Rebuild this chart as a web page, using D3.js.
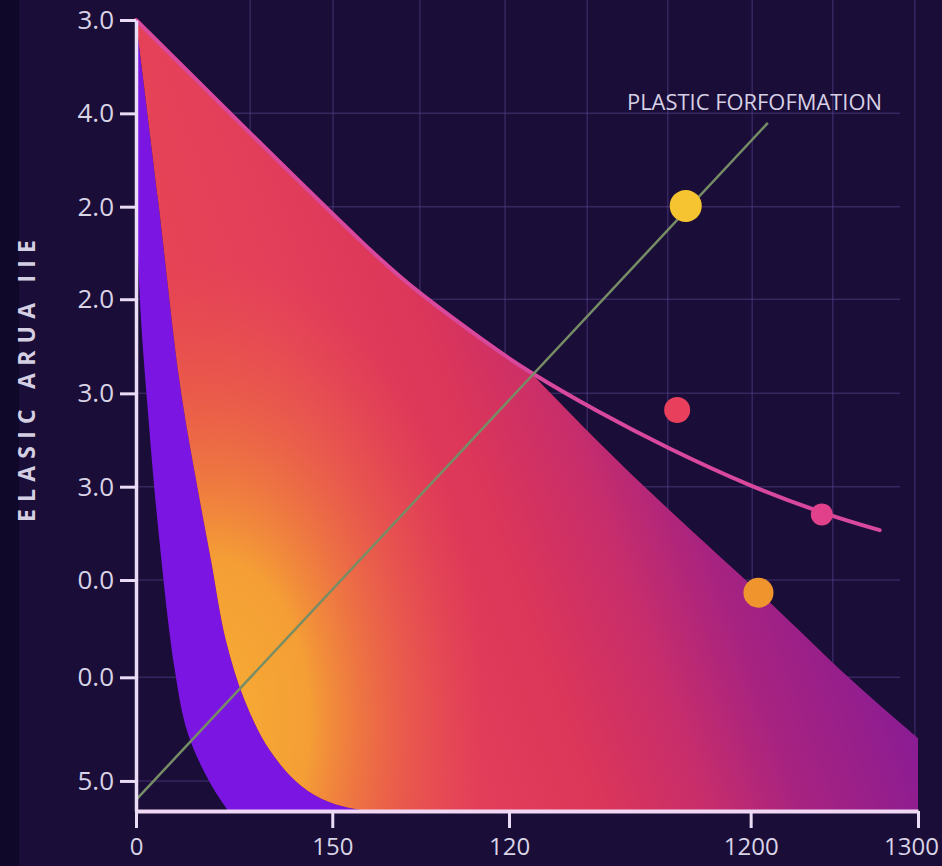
<!DOCTYPE html>
<html>
<head>
<meta charset="utf-8">
<script src="https://cdn.jsdelivr.net/npm/d3@7"></script>
<style>
  html, body { margin: 0; padding: 0; background: #1a0d38; }
  svg { display: block; }
</style>
</head>
<body>
<div id="chart"></div>
<script>
// ---- data (axis units 0..100 on both axes) ----
const xTickValues = [0, 25.1, 47.7, 78.6, 100];
const xTickLabels = ["0", "150", "120", "1200", "1300"];
const yTickValues = [100, 88.2, 76.4, 64.7, 52.8, 41, 29.2, 16.9, 3.8];
const yTickLabels = ["3.0", "4.0", "2.0", "2.0", "3.0", "3.0", "0.0", "0.0", "5.0"];
const gridX = [14.6, 25.2, 36.3, 47.2, 57.7, 68.0, 78.8, 89.1, 99.6];
const gridY = [88.2, 76.4, 64.7, 52.8, 41, 29.2, 16.9, 3.8];

// upper curve (edge of the big area, continues as the pink line)
const upperCurve = [[0, 100], [14.6, 85.7], [28.6, 72.2], [36.3, 65.5], [44.0, 59.8],
  [50.4, 55.5], [59.3, 50.4], [68.3, 45.8], [78.5, 41.2], [87.9, 37.7], [95.1, 35.5]];
// where the area leaves the pink line and falls to the right edge
const areaUpper = [[50.4, 55.5], [59.3, 46.5], [70, 36.4], [82.3, 25.2], [91, 17.0], [100, 9.2]];
// orange left edge of the big area, top to bottom
const orangeEdge = [[0, 100], [2.8, 77.4], [5.6, 54.1], [7.7, 41.8], [9.6, 31.7], [11.5, 21.6],
  [13.9, 14.0], [17.1, 7.7], [21.0, 3.3], [24.8, 1.1], [29.3, 0]];
// left edge of the violet band, top to bottom
const purpleEdge = [[0, 100], [0.1, 77.2], [0.5, 64.6], [1.4, 52.0], [2.9, 35.1], [4.9, 18.2],
  [6.6, 9.9], [9.5, 3.5], [11.8, 0]];

const greenLine = [[0, 1.4], [80.8, 87]];
const dotX = [70.3, 69.2, 87.7, 79.6];
const dotY = [76.5, 50.7, 37.5, 27.6];
const lineLabel = "PLASTIC FORFOFMATION";
const yTitle = "ELASIC ARUA IIE";

// ---- drawing ----
var W = 942, H = 866;
var svg = d3.select("#chart").append("svg")
    .attr("width", W)
    .attr("height", H);

svg.append("rect").attr("width", W).attr("height", H).attr("fill", "#1a0d38");
svg.append("rect").attr("width", 19).attr("height", H).attr("fill", "#0f0829");

var x = d3.scaleLinear().domain([0, 100]).range([136, 918]);
var y = d3.scaleLinear().domain([0, 100]).range([811, 20]);

var defs = svg.append("defs");
var lg = defs.append("linearGradient")
    .attr("id", "areaGrad")
    .attr("gradientUnits", "userSpaceOnUse")
    .attr("x1", 140).attr("y1", 760).attr("x2", 918).attr("y2", 480);
[[0, "#ea4a4a"], [0.34, "#e4405a"], [0.5, "#dc3659"], [0.62, "#c92e6a"],
 [0.73, "#a82380"], [0.82, "#981f8a"], [0.9, "#8a1c95"], [1, "#7e1a9c"]]
  .forEach(s => lg.append("stop").attr("offset", s[0]).attr("stop-color", s[1]));

var rg = defs.append("radialGradient")
    .attr("id", "glow")
    .attr("gradientUnits", "userSpaceOnUse")
    .attr("cx", 215).attr("cy", 720).attr("r", 270)
    .attr("gradientTransform", "translate(215,720) scale(1,1.7) translate(-215,-720)");
[[0, "#f7ad33", 1], [0.35, "#f5a334", 0.95], [0.7, "#ef7a3c", 0.45], [1, "#ec6040", 0]]
  .forEach(s => rg.append("stop").attr("offset", s[0]).attr("stop-color", s[1]).attr("stop-opacity", s[2]));

// grid
svg.append("g").selectAll("line")
    .data(gridX)
    .join("line")
    .attr("x1", d => x(d)).attr("x2", d => x(d))
    .attr("y1", 0).attr("y2", y(0))
    .attr("stroke", "#5a4590").attr("stroke-opacity", 0.45).attr("stroke-width", 1.5);
svg.append("g").selectAll("line")
    .data(gridY)
    .join("line")
    .attr("x1", x(0)).attr("x2", 900)
    .attr("y1", d => y(d)).attr("y2", d => y(d))
    .attr("stroke", "#5a4590").attr("stroke-opacity", 0.45).attr("stroke-width", 1.5);

var smooth = d3.line().x(d => x(d[0])).y(d => y(d[1])).curve(d3.curveNatural);
var edge = d3.line().x(d => x(d[0])).y(d => y(d[1])).curve(d3.curveCatmullRom.alpha(0.5));
function cont(gen, pts) { return gen(pts).replace(/^M/, "L"); }

// violet band
var purpleD = edge(purpleEdge) + "L" + x(29.3) + "," + y(0) +
    cont(edge, orangeEdge.slice().reverse()) + "Z";
svg.append("path").attr("d", purpleD).attr("fill", "#7b16e2");

// big area
var areaD = smooth(upperCurve.slice(0, 6)) + cont(smooth, areaUpper) +
    "L" + x(100) + "," + y(0) + "L" + x(29.3) + "," + y(0) +
    cont(edge, orangeEdge.slice().reverse()) + "Z";
svg.append("path").attr("d", areaD).attr("fill", "url(#areaGrad)");
svg.append("path").attr("d", areaD).attr("fill", "url(#glow)");

// pink curve
svg.append("path")
    .attr("d", smooth(upperCurve))
    .attr("fill", "none")
    .attr("stroke", "#d8489c")
    .attr("stroke-width", 4)
    .attr("stroke-linecap", "round");

// green line
svg.append("path")
    .attr("d", d3.line().x(d => x(d[0])).y(d => y(d[1]))(greenLine))
    .attr("stroke", "#768d65")
    .attr("stroke-width", 2.5)
    .attr("fill", "none");

svg.append("text")
    .attr("x", 627).attr("y", 110)
    .attr("textLength", 255)
    .attr("lengthAdjust", "spacingAndGlyphs")
    .style("font-family", "Open Sans")
    .style("font-size", "22px")
    .attr("fill", "#d6d0e4")
    .text(lineLabel);

// dots
var dotR = [16, 13, 11, 15];
var dotFill = ["#f6c331", "#e83f5c", "#e0418a", "#f0952e"];
svg.append("g").selectAll("circle")
    .data(dotX)
    .join("circle")
    .attr("cx", d => x(d))
    .attr("cy", (d, i) => y(dotY[i]))
    .attr("r", (d, i) => dotR[i])
    .attr("fill", (d, i) => dotFill[i]);

// axes
var axisColor = "#eadcf4";
var xAxis = svg.append("g")
    .attr("transform", "translate(0," + y(0) + ")")
    .call(d3.axisBottom(x)
        .tickValues(xTickValues)
        .tickFormat((d, i) => xTickLabels[i])
        .tickSize(17)
        .tickSizeOuter(0)
        .tickPadding(10));
xAxis.select(".domain").attr("stroke", "#f0d8f4").attr("stroke-width", 4);
xAxis.selectAll(".tick line").attr("stroke", axisColor).attr("stroke-width", 3);
xAxis.selectAll(".tick text")
    .style("font-family", "Open Sans")
    .style("font-size", "24px")
    .attr("fill", "#d9d3e6")
    .attr("dx", (d, i) => i === xTickValues.length - 1 ? -7 : 0);

var yAxis = svg.append("g")
    .attr("transform", "translate(" + x(0) + ",0)")
    .call(d3.axisLeft(y)
        .tickValues(yTickValues)
        .tickFormat((d, i) => yTickLabels[i])
        .tickSize(16)
        .tickSizeOuter(0)
        .tickPadding(6));
yAxis.select(".domain").attr("stroke", axisColor).attr("stroke-width", 3.5);
yAxis.selectAll(".tick line").attr("stroke", axisColor).attr("stroke-width", 3);
yAxis.selectAll(".tick text")
    .style("font-family", "Open Sans")
    .style("font-size", "26px")
    .attr("fill", "#d9d3e6");

// y title
svg.append("text")
    .attr("transform", "translate(35,381) rotate(-90)")
    .attr("text-anchor", "middle")
    .attr("textLength", 282)
    .attr("lengthAdjust", "spacing")
    .style("font-family", "Open Sans")
    .style("font-weight", "bold")
    .style("font-size", "23px")
    .attr("fill", "#d4cfe2")
    .text(yTitle);
</script>
</body>
</html>
